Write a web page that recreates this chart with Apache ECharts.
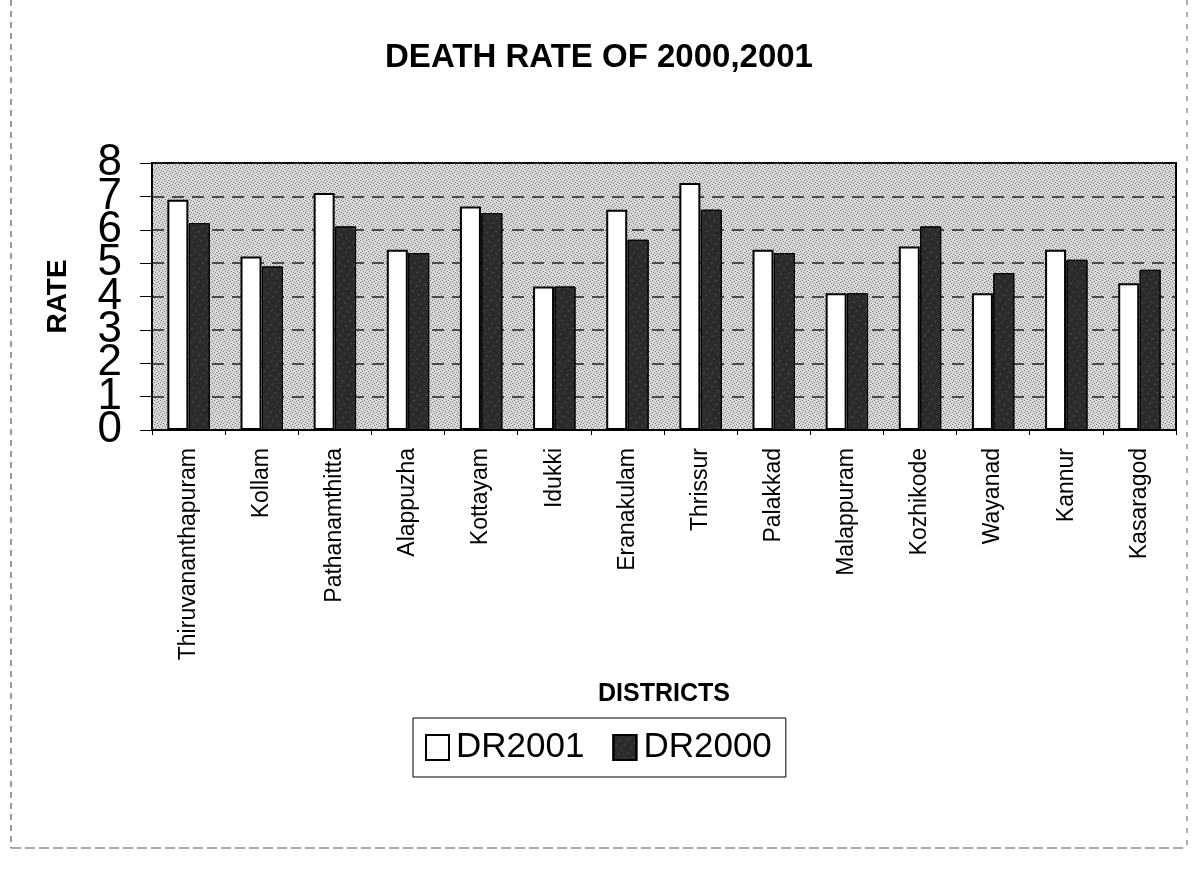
<!DOCTYPE html>
<html>
<head>
<meta charset="utf-8">
<script src="https://cdn.jsdelivr.net/npm/echarts@6/dist/echarts.min.js"></script>
<style>html,body{margin:0;padding:0;background:#fff}#c{width:1198px;height:878px}</style>
</head>
<body>
<div id="c"></div>
<script>
const districts = ['Thiruvananthapuram','Kollam','Pathanamthitta','Alappuzha','Kottayam','Idukki','Eranakulam','Thrissur','Palakkad','Malappuram','Kozhikode','Wayanad','Kannur','Kasaragod'];
const dr2001 = [6.9, 5.2, 7.1, 5.4, 6.7, 4.3, 6.6, 7.4, 5.4, 4.1, 5.5, 4.1, 5.4, 4.4];
const dr2000 = [6.2, 4.9, 6.1, 5.3, 6.5, 4.3, 5.7, 6.6, 5.3, 4.1, 6.1, 4.7, 5.1, 4.8];
const yTicks = [0,1,2,3,4,5,6,7,8];

const FONT = '"Liberation Sans", Arial, sans-serif';
const chart = echarts.init(document.getElementById('c'), null, {renderer:'canvas'});

// stipple pattern for plot background
const pc = document.createElement('canvas');
pc.width = 6; pc.height = 6;
const pctx = pc.getContext('2d');
pctx.fillStyle = '#d8d8d8'; pctx.fillRect(0,0,6,6);
pctx.fillStyle = '#7a7a7a';
[[0,0],[3,1],[1,3],[4,4],[2,5],[5,2]].forEach(p=>pctx.fillRect(p[0],p[1],1,1));

const yLabelStyle = {fontFamily: FONT, fontSize: 44, color: '#000', margin: 30,
  showMinLabel: true, showMaxLabel: true, hideOverlap: false};

chart.setOption({
  backgroundColor: '#fff',
  animation: false,
  title: {
    text: 'DEATH RATE OF 2000,2001',
    left: 'center', top: 36,
    textStyle: {fontFamily: FONT, fontWeight: 'bold', fontSize: 33, color: '#000'}
  },
  legend: {
    data: ['DR2001','DR2000'],
    left: 413, top: 718,
    orient: 'horizontal',
    icon: 'rect',
    borderColor: '#000', borderWidth: 1,
    padding: [12, 14, 12, 12],
    itemWidth: 23, itemHeight: 25, itemGap: 28,
    textStyle: {fontFamily: FONT, fontSize: 35, color: '#000', padding: [0, 0, 0, 2]}
  },
  grid: {left: 152, right: 22, top: 163, bottom: 448, containLabel: false,
         show: true, backgroundColor: {image: pc, repeat: 'repeat'}, borderColor: '#000', borderWidth: 2},
  xAxis: {
    type: 'category', data: districts,
    name: 'DISTRICTS', nameLocation: 'middle', nameGap: 252,
    nameTextStyle: {fontFamily: FONT, fontWeight: 'bold', fontSize: 25, color: '#000'},
    axisLine: {lineStyle: {color: '#000', width: 2}},
    axisTick: {show: true, length: 5, lineStyle: {color: '#000'}},
    axisLabel: {rotate: 90, fontFamily: FONT, fontSize: 23, color: '#000', margin: 18, interval: 0}
  },
  yAxis: [
    {
      type: 'value', min: 0, max: 8, interval: 1, position: 'left',
      name: 'RATE', nameLocation: 'middle', nameGap: 80, nameRotate: 90,
      nameTextStyle: {fontFamily: FONT, fontWeight: 'bold', fontSize: 28, color: '#000'},
      axisLine: {show: true, lineStyle: {color: '#000', width: 2}},
      axisTick: {show: true, length: 12, lineStyle: {color: '#000'}},
      axisLabel: Object.assign({}, yLabelStyle, {
        formatter: v => (yTicks.indexOf(v) >= 0 && v % 2 === 0) ? String(v) : ''}),
      splitLine: {show: true, lineStyle: {color: '#222', width: 1.5, type: [12, 8]}}
    },
    {
      type: 'value', min: 0, max: 8, interval: 1, position: 'left', offset: 0,
      axisLine: {show: false}, axisTick: {show: false}, splitLine: {show: false},
      axisLabel: Object.assign({}, yLabelStyle, {
        formatter: v => (yTicks.indexOf(v) >= 0 && v % 2 === 1) ? String(v) : ''})
    }
  ],
  series: [
    {name: 'DR2001', type: 'bar', data: dr2001, barWidth: 21, barGap: '2%', yAxisIndex: 0,
     itemStyle: {color: '#ffffff', borderColor: '#000', borderWidth: 2}},
    {name: 'DR2000', type: 'bar', data: dr2000, barWidth: 21, yAxisIndex: 0,
     itemStyle: {color: '#2b2b2b', borderColor: '#000', borderWidth: 1,
       decal: {symbol: 'circle', symbolSize: 0.5, color: 'rgba(230,230,230,0.55)', dashArrayX: [2, 5], dashArrayY: [2, 4], rotation: 0.6}}}
  ],
  graphic: [
    {type: 'line', shape: {x1: 11, y1: 0, x2: 11, y2: 848}, style: {stroke: '#555', lineWidth: 1.2, lineDash: [6, 5]}},
    {type: 'line', shape: {x1: 11, y1: 848, x2: 1187, y2: 848}, style: {stroke: '#555', lineWidth: 1.2, lineDash: [10, 4]}},
    {type: 'line', shape: {x1: 1187, y1: 0, x2: 1187, y2: 848}, style: {stroke: '#777', lineWidth: 1.2, lineDash: [5, 7]}}
  ]
});
</script>
</body>
</html>
